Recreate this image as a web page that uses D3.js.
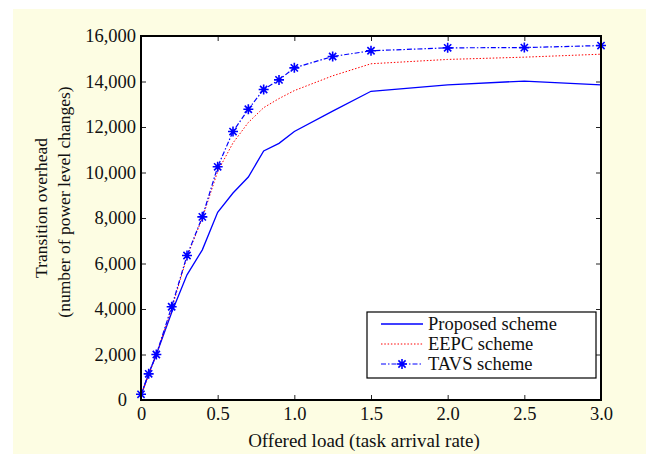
<!DOCTYPE html>
<html>
<head>
<meta charset="utf-8">
<script src="https://cdn.jsdelivr.net/npm/d3@7"></script>
<style>
  body { margin: 0; background: #fff; }
  svg text { font-family: "Liberation Serif", "Times New Roman", serif; fill: #111; }
</style>
</head>
<body>
<div id="chart"></div>
<script>
// offered load (task arrival rate)
const loads = [0, 0.05, 0.1, 0.2, 0.3, 0.4, 0.5, 0.6, 0.7, 0.8, 0.9, 1.0, 1.25, 1.5, 2.0, 2.5, 3.0];
// transition overhead per scheme
const proposed = [200, 1150, 2000, 3850, 5500, 6600, 8250, 9100, 9800, 10950, 11280, 11800, 12700, 13570, 13850, 14020, 13850];
const eepc = [200, 1100, 2000, 4000, 6300, 8000, 10050, 11300, 12200, 12850, 13250, 13600, 14250, 14780, 14970, 15070, 15200];
const tavs = [250, 1150, 2000, 4100, 6350, 8050, 10250, 11800, 12780, 13650, 14070, 14600, 15100, 15350, 15480, 15490, 15580];
const xTicks = [0, 0.5, 1.0, 1.5, 2.0, 2.5, 3.0];
const yTicks = [0, 2000, 4000, 6000, 8000, 10000, 12000, 14000, 16000];
const seriesNames = ["Proposed scheme", "EEPC scheme", "TAVS scheme"];

const width = 646, height = 454;
const plotLeft = 141, plotRight = 601, plotTop = 36, plotBottom = 400;

const svg = d3.select("#chart").append("svg")
    .attr("width", width)
    .attr("height", height);

// yellowish page background
svg.append("rect")
    .attr("x", 13).attr("y", 9)
    .attr("width", width - 13).attr("height", height - 9)
    .attr("fill", "#fdfde3");

svg.append("rect")
    .attr("x", plotLeft).attr("y", plotTop)
    .attr("width", plotRight - plotLeft).attr("height", plotBottom - plotTop)
    .attr("fill", "#fff");

const x = d3.scaleLinear().domain([0, 3]).range([plotLeft, plotRight]);
const y = d3.scaleLinear().domain([0, 16000]).range([plotBottom, plotTop]);

const xFmt = d => d === 0 ? "0" : d3.format(".1f")(d);
const yFmt = d3.format(",");

const gx = svg.append("g")
    .attr("transform", `translate(0,${plotBottom})`)
    .call(d3.axisBottom(x).tickValues(xTicks).tickFormat(xFmt)
        .tickSizeInner(-5).tickSizeOuter(0).tickPadding(7));
const gy = svg.append("g")
    .attr("transform", `translate(${plotLeft},0)`)
    .call(d3.axisLeft(y).tickValues(yTicks).tickFormat(yFmt)
        .tickSizeInner(-5).tickSizeOuter(0).tickPadding(5));
const gt = svg.append("g")
    .attr("transform", `translate(0,${plotTop})`)
    .call(d3.axisTop(x).tickValues(xTicks).tickFormat("")
        .tickSizeInner(-5).tickSizeOuter(0));
const gr = svg.append("g")
    .attr("transform", `translate(${plotRight},0)`)
    .call(d3.axisRight(y).tickValues(yTicks).tickFormat("")
        .tickSizeInner(-5).tickSizeOuter(0));

[gx, gy, gt, gr].forEach(g => {
    g.select(".domain").remove();
    g.selectAll(".tick line").attr("stroke", "#222").attr("stroke-width", 1);
    g.selectAll("text").attr("font-size", 18.5).attr("fill", "#111")
        .attr("font-family", "Liberation Serif, serif");
});
// the zero label sits a bit further left in the original
gy.selectAll(".tick text").filter(d => d === 0).attr("dx", -9);

const line = d3.line()
    .x((d, i) => x(loads[i]))
    .y(d => y(d));

svg.append("path").datum(proposed)
    .attr("d", line)
    .attr("fill", "none")
    .attr("stroke", "#0000ff")
    .attr("stroke-width", 1.3);

svg.append("path").datum(eepc)
    .attr("d", line)
    .attr("fill", "none")
    .attr("stroke", "#ff0000")
    .attr("stroke-width", 1)
    .attr("stroke-dasharray", "1.5,1.8");

svg.append("path").datum(tavs)
    .attr("d", line)
    .attr("fill", "none")
    .attr("stroke", "#0000ff")
    .attr("stroke-width", 1.2)
    .attr("stroke-dasharray", "5,2,1.5,2");

function star(r) {
    const k = r * 0.72;
    return `M${-r},0L${r},0M0,${-r}L0,${r}M${-k},${-k}L${k},${k}M${-k},${k}L${k},${-k}`;
}

svg.append("g").selectAll("path")
    .data(tavs)
    .join("path")
    .attr("transform", (d, i) => `translate(${x(loads[i])},${y(d)})`)
    .attr("d", star(5))
    .attr("fill", "none")
    .attr("stroke", "#0000ff")
    .attr("stroke-width", 1.6);

// plot frame
svg.append("rect")
    .attr("x", plotLeft).attr("y", plotTop)
    .attr("width", plotRight - plotLeft).attr("height", plotBottom - plotTop)
    .attr("fill", "none")
    .attr("stroke", "#000")
    .attr("stroke-width", 2);

// legend
const lg = svg.append("g");
lg.append("rect")
    .attr("x", 367).attr("y", 312)
    .attr("width", 229).attr("height", 66)
    .attr("fill", "#fff")
    .attr("stroke", "#000")
    .attr("stroke-width", 1.2);

const legendStyles = [
    { color: "#0000ff", dash: null, w: 1.3 },
    { color: "#ff0000", dash: "1.5,1.8", w: 1 },
    { color: "#0000ff", dash: "5,2,1.5,2", w: 1.2 }
];
seriesNames.forEach((name, i) => {
    const ly = 324 + i * 20;
    lg.append("line")
        .attr("x1", 381).attr("x2", 423)
        .attr("y1", ly).attr("y2", ly)
        .attr("stroke", legendStyles[i].color)
        .attr("stroke-width", legendStyles[i].w)
        .attr("stroke-dasharray", legendStyles[i].dash);
    if (i === 2) {
        lg.append("path")
            .attr("transform", `translate(402,${ly})`)
            .attr("d", star(5))
            .attr("fill", "none")
            .attr("stroke", "#0000ff")
            .attr("stroke-width", 1.6);
    }
    lg.append("text")
        .attr("x", 428).attr("y", ly + 6)
        .attr("font-size", 18.5)
        .text(name);
});

// axis titles
svg.append("text")
    .attr("x", (plotLeft + plotRight) / 2 - 7)
    .attr("y", 447)
    .attr("text-anchor", "middle")
    .attr("font-size", 19)
    .text("Offered load (task arrival rate)");

svg.append("text")
    .attr("transform", "translate(47,208) rotate(-90)")
    .attr("text-anchor", "middle")
    .attr("font-size", 17.5)
    .text("Transition overhead");
svg.append("text")
    .attr("transform", "translate(70,202) rotate(-90)")
    .attr("text-anchor", "middle")
    .attr("font-size", 17.5)
    .text("(number of power level changes)");
</script>
</body>
</html>
